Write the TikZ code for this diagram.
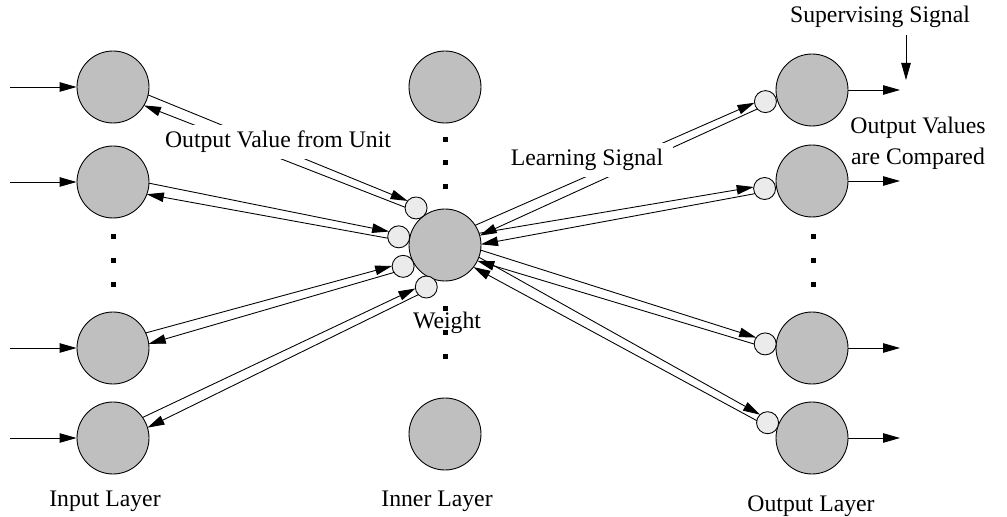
\documentclass[tikz,border=0pt]{standalone}
\usepackage{fontspec}
\setmainfont{Liberation Serif}
\usepackage{tikz}
\usetikzlibrary{arrows.meta}
\usetikzlibrary{calc}

% radius of a neuron and of a weight
\def\Rn{0.72cm}
\def\Rw{0.22cm}
% pair of opposite wires between a unit and a weight
\newcommand{\wirepair}[2]{%
  \draw[wire] ($(#1)!\Rn!9:(#2)$) -- ($(#2)!\Rw!-18:(#1)$);
  \draw[wire] ($(#2)!\Rw!18:(#1)$) -- ($(#1)!\Rn!-9:(#2)$);
}

\begin{document}
\begin{tikzpicture}[
    x=0.02cm, y=0.02cm,
    neuron/.style={circle, draw, fill=gray!50, minimum size=1.44cm, inner sep=0pt, line width=0.5pt},
    weight/.style={circle, draw, fill=black!8, minimum size=0.44cm, inner sep=0pt, line width=0.5pt},
    wire/.style={-{Triangle[length=0.34cm,width=0.19cm]}, line width=0.5pt},
    dot/.style={fill=black, minimum size=0.1cm, inner sep=0pt},
    txt/.style={font=\fontsize{13.5}{17.5}\selectfont},
    every node/.style={color=black}
    ]
   \fill[white] (0,0) rectangle (1007,517);
   \useasboundingbox (0,0) rectangle (1007,517);
   % input layer
   \node[neuron] (in1) at (113,430) {};
   \node[neuron] (in2) at (113,335) {};
   \node[neuron] (in3) at (113,169) {};
   \node[neuron] (in4) at (113,79) {};
   % inner layer
   \node[neuron] (h1) at (445,430) {};
   \node[neuron] (hc) at (445,272) {};
   \node[neuron] (h2) at (445,83) {};
   % output layer
   \node[neuron] (out1) at (812,427) {};
   \node[neuron] (out2) at (812,336) {};
   \node[neuron] (out3) at (812,169) {};
   \node[neuron] (out4) at (812,79) {};
   % weights
   \node[weight] (w1) at ($(hc)+(128:47)$) {};
   \node[weight] (w2) at ($(hc)+(170:47)$) {};
   \node[weight] (w3) at ($(hc)+(207:47)$) {};
   \node[weight] (w4) at ($(hc)+(246:46)$) {};
   \node[weight] (v1) at ($(out1)+(194:48)$) {};
   \node[weight] (v2) at ($(out2)+(189:48)$) {};
   \node[weight] (v3) at ($(out3)+(175:47)$) {};
   \node[weight] (v4) at ($(out4)+(161:47)$) {};
   % dots
   \foreach \yy [count=\k] in {280,256,232} {
     \node[dot] (din\k) at (113,\yy) {};
     \node[dot] (dout\k) at (813,\yy) {};
   }
   \foreach \yy [count=\k] in {377,354,330,208,184,160}
     \node[dot] (dh\k) at (445,\yy) {};
   % inputs and outputs
   \foreach \i/\yy in {1/430,2/335,3/169,4/79} {
     \coordinate (src\i) at (10,\yy);
     \draw[wire] (src\i) -- (in\i);
     \coordinate (dst\i) at ($(out\i)+(88,0)$);
     \draw[wire] (out\i) -- (dst\i);
   }
   % wires
   \wirepair{in1}{w1}
   \wirepair{in2}{w2}
   \wirepair{in3}{w3}
   \wirepair{in4}{w4}
   \wirepair{hc}{v1}
   \wirepair{hc}{v2}
   \wirepair{hc}{v3}
   \wirepair{hc}{v4}
   % supervising signal
   \coordinate (s0) at (906,482);
   \coordinate (s1) at (906,437);
   \draw[wire] (s0) -- (s1);
   % labels
   \node[txt, fill=white, inner xsep=0.2cm, inner ysep=0.12cm] (ovu) at (278,375) {Output Value from Unit};
   \node[txt, fill=white, inner xsep=0.2cm, inner ysep=0.12cm] (ls) at (587,357) {Learning Signal};
   \node[txt] (sup) at (880,500) {Supervising Signal};
   \node[txt, align=center] (cmp) at (918,374) {Output Values\\are Compared};
   \node[txt] (wt) at (447,194) {Weight};
   \node[txt] (lin) at (105,16) {Input Layer};
   \node[txt] (lh) at (437,16) {Inner Layer};
   \node[txt] (lout) at (811,11) {Output Layer};
\end{tikzpicture}
\end{document}
